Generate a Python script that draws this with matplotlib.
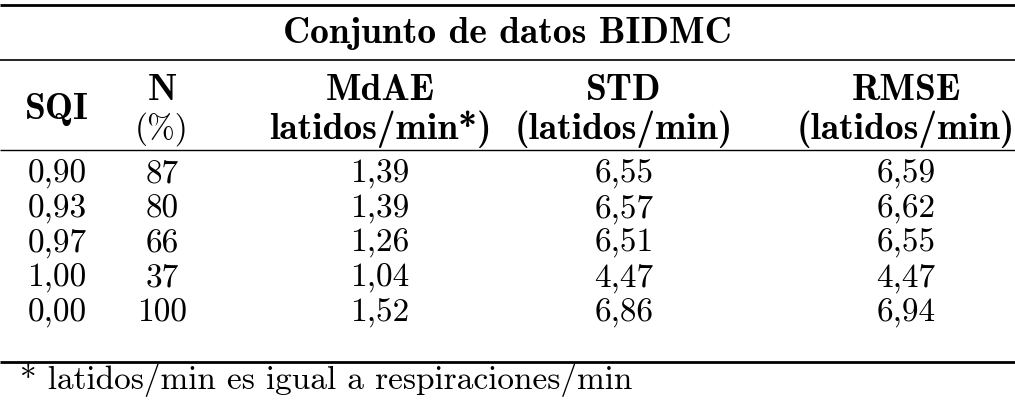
import matplotlib.pyplot as plt

title = "Conjunto de datos BIDMC"
headers = [("SQI", ""), ("N", "(%)"), ("MdAE", "latidos/min*)"),
           ("STD", "(latidos/min)"), ("RMSE", "(latidos/min)")]
sqi = ["0,90", "0,93", "0,97", "1,00", "0,00"]
n_pct = ["87", "80", "66", "37", "100"]
mdae = ["1,39", "1,39", "1,26", "1,04", "1,52"]
std = ["6,55", "6,57", "6,51", "4,47", "6,86"]
rmse = ["6,59", "6,62", "6,55", "4,47", "6,94"]
footnote = "* latidos/min es igual a respiraciones/min"

W, H = 1015, 400
fig = plt.figure(figsize=(W / 100, H / 100), dpi=100)
ax = fig.add_axes([0, 0, 1, 1])
ax.set_xlim(0, W)
ax.set_ylim(H, 0)
ax.axis("off")

reg = dict(family="cmr10", fontsize=24)
bold = dict(family="cmb10", fontsize=27)

for y, lw in [(5, 2.0), (60, 1.2), (150, 1.0), (362, 2.0)]:
    ax.plot([0, W], [y, y], color="black", lw=lw, solid_capstyle="butt")

ax.text(W / 2, 33, title, ha="center", va="center", **bold)

xs = [57, 162, 380, 624, 906]
for x, (h1, h2) in zip(xs, headers):
    if h2:
        ax.text(x, 90, h1, ha="center", va="center", **bold)
        ax.text(x, 129, h2, ha="center", va="center",
                **(reg if h2 == "(%)" else bold))
    else:
        ax.text(x, 110, h1, ha="center", va="center", **bold)

cols = [sqi, n_pct, mdae, std, rmse]
for i in range(len(sqi)):
    y = 174 + i * 34.8
    for x, col in zip(xs, cols):
        ax.text(x, y, col[i], ha="center", va="center", **reg)

ax.text(20, 380, footnote, ha="left", va="center", **reg)

fig.savefig("out.png", dpi=100)
